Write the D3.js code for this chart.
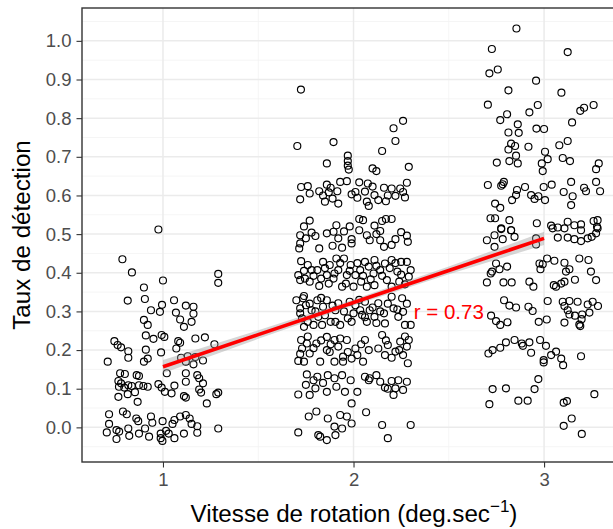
<!DOCTYPE html>
<html><head><meta charset="utf-8">
<script src="https://cdn.jsdelivr.net/npm/d3@7"></script>
<style>body{margin:0;background:#fff}svg{display:block;font-family:"Liberation Sans",Arial,Helvetica,sans-serif}</style>
</head><body><div id="chart"></div>
<script>
// x ticks / y ticks
const xTicks = [1, 2, 3];
const xMinor = [1.5, 2.5];
const yTicks = [0, 0.1, 0.2, 0.3, 0.4, 0.5, 0.6, 0.7, 0.8, 0.9, 1.0];
const yMinor = [-0.05, 0.05, 0.15, 0.25, 0.35, 0.45, 0.55, 0.65, 0.75, 0.85, 0.95, 1.05];

// jittered observations, speed 1 (x, y pairs)
const speed1 = [0.976,0.512,0.787,0.435,0.837,0.401,1.29,0.397,1.29,0.374,1.0,0.380,0.90,0.362,0.815,0.328,0.905,0.332,1.058,0.329,0.995,0.317,0.937,0.303,0.984,0.299,1.12,0.315,1.16,0.312,1.068,0.297,1.16,0.294,0.90,0.278,1.09,0.279,1.15,0.273,0.92,0.265,1.11,0.260,0.91,0.238,0.95,0.229,0.993,0.239,1.007,0.234,1.17,0.230,1.22,0.233,0.745,0.223,0.762,0.213,0.78,0.207,0.818,0.197,0.818,0.180,0.91,0.201,0.99,0.194,1.08,0.223,1.09,0.219,1.07,0.204,1.27,0.215,0.71,0.170,0.92,0.178,0.90,0.170,1.095,0.180,1.13,0.184,1.17,0.182,1.12,0.170,1.16,0.163,1.21,0.173,1.02,0.140,1.12,0.140,0.775,0.140,0.80,0.138,0.862,0.135,0.874,0.133,0.766,0.120,0.78,0.114,0.818,0.109,0.769,0.105,0.797,0.103,0.836,0.107,0.874,0.109,0.897,0.107,0.92,0.105,0.853,0.091,0.815,0.086,0.766,0.079,0.867,0.066,0.976,0.112,0.993,0.103,1.01,0.092,1.045,0.088,1.06,0.108,1.12,0.118,1.18,0.135,1.19,0.127,1.21,0.114,1.19,0.098,1.20,0.090,1.11,0.081,1.12,0.077,1.29,0.090,1.28,0.086,1.23,0.062,0.717,0.034,0.79,0.041,0.81,0.034,0.86,0.023,0.87,0.016,0.937,0.028,0.944,0.012,0.998,0.016,1.06,0.019,1.05,0.009,1.09,0.028,1.12,0.032,1.14,0.023,1.15,0.009,1.18,0.003,0.717,0.009,0.705,-0.013,0.756,-0.007,0.77,-0.011,0.818,-0.003,0.823,-0.022,0.756,-0.030,0.874,-0.016,0.927,-0.024,0.988,-0.016,1.016,-0.009,0.988,-0.028,0.997,-0.035,1.03,-0.016,1.06,-0.028,1.11,-0.016,1.18,-0.014,1.29,-0.003,0.906,-0.003];

// speed 2
const speed2 = [1.724,0.874,1.705,0.728,1.895,0.738,1.86,0.683,1.97,0.703,1.97,0.689,1.97,0.677,1.975,0.667,2.26,0.793,2.21,0.774,2.22,0.741,2.15,0.715,2.10,0.670,2.12,0.663,2.29,0.674,
1.725,0.622,1.76,0.624,1.72,0.590,1.77,0.605,1.82,0.611,1.86,0.628,1.87,0.608,1.85,0.584,1.89,0.592,1.92,0.579,1.93,0.635,1.965,0.637,1.915,0.611,1.99,0.603,2.01,0.609,2.02,0.594,2.03,0.634,2.075,0.631,2.10,0.623,2.07,0.584,2.08,0.573,2.11,0.601,2.13,0.588,2.16,0.620,2.17,0.585,2.20,0.618,2.22,0.599,2.245,0.618,2.26,0.609,2.28,0.633,
1.77,0.535,1.72,0.497,1.72,0.476,1.715,0.463,1.75,0.489,1.78,0.504,1.82,0.463,1.86,0.502,1.895,0.506,1.91,0.523,1.92,0.489,1.89,0.470,1.94,0.465,1.95,0.507,1.99,0.487,1.99,0.476,2.03,0.539,2.05,0.536,2.03,0.510,2.07,0.497,2.085,0.484,2.11,0.522,2.14,0.508,2.15,0.534,2.17,0.539,2.20,0.539,2.14,0.484,2.16,0.467,2.20,0.472,2.22,0.487,2.28,0.496,2.285,0.480,
1.74,0.520,1.80,0.495,1.84,0.600,1.88,0.620,1.98,0.520,2.06,0.610,2.12,0.500,2.18,0.600,2.25,0.505,2.27,0.595,
1.725,0.430,1.76,0.420,1.71,0.394,1.745,0.385,1.72,0.381,1.77,0.377,1.81,0.407,1.83,0.385,1.86,0.394,1.87,0.372,1.875,0.420,1.91,0.437,1.92,0.407,1.95,0.437,1.965,0.394,1.94,0.364,2.0,0.364,2.01,0.394,2.04,0.377,2.06,0.428,2.08,0.416,2.07,0.364,2.11,0.433,2.14,0.407,2.165,0.424,2.20,0.433,2.23,0.403,2.25,0.428,2.28,0.428,2.30,0.407,2.175,0.381,2.20,0.364,2.24,0.377,2.035,0.407,2.105,0.398,1.78,0.407,1.895,0.385,2.11,0.368,1.985,0.420,1.84,0.428,
1.74,0.405,1.79,0.392,1.85,0.412,1.90,0.398,1.93,0.425,1.98,0.405,2.02,0.425,2.05,0.392,2.09,0.383,2.12,0.418,2.15,0.392,2.19,0.412,2.22,0.425,2.25,0.395,2.27,0.370,2.29,0.390,1.82,0.366,1.96,0.372,
1.70,0.329,1.735,0.334,1.72,0.308,1.75,0.316,1.73,0.282,1.76,0.273,1.78,0.303,1.81,0.329,1.815,0.286,1.84,0.312,1.86,0.329,1.88,0.273,1.905,0.303,1.92,0.321,1.93,0.265,1.97,0.282,2.01,0.316,2.035,0.303,2.045,0.291,2.07,0.273,2.085,0.303,2.11,0.286,2.13,0.321,2.16,0.295,2.165,0.269,2.20,0.338,2.21,0.308,2.235,0.286,2.255,0.334,2.26,0.299,2.27,0.265,2.30,0.265,1.835,0.265,1.79,0.265,1.905,0.273,1.74,0.260,1.99,0.273,2.06,0.325,
1.72,0.295,1.77,0.320,1.80,0.300,1.83,0.335,1.85,0.290,1.89,0.315,1.95,0.300,1.98,0.325,2.00,0.295,2.03,0.330,2.06,0.285,2.10,0.310,2.14,0.300,2.18,0.320,2.23,0.305,2.28,0.320,1.74,0.340,2.12,0.270,
1.725,0.226,1.755,0.217,1.73,0.204,1.71,0.172,1.74,0.170,1.77,0.191,1.805,0.217,1.825,0.170,1.86,0.234,1.875,0.195,1.90,0.226,1.92,0.209,1.945,0.183,1.965,0.226,2.01,0.204,2.02,0.187,2.05,0.170,2.06,0.226,1.90,0.170,1.945,0.170,2.15,0.239,2.13,0.204,2.165,0.187,2.18,0.213,2.22,0.196,2.245,0.222,2.29,0.226,2.28,0.209,2.285,0.166,2.26,0.187,1.86,0.200,1.99,0.178,
1.76,0.235,1.79,0.205,1.83,0.225,1.88,0.215,1.93,0.230,1.97,0.195,2.04,0.215,2.08,0.200,2.17,0.225,2.20,0.180,2.24,0.200,2.27,0.235,1.72,0.190,
1.755,0.137,1.79,0.122,1.81,0.131,1.865,0.135,1.90,0.127,1.80,0.101,1.71,0.085,1.77,0.084,1.86,0.092,1.91,0.105,1.955,0.092,1.985,0.122,1.99,0.062,2.02,0.092,2.06,0.131,2.08,0.122,2.085,0.127,2.14,0.118,2.165,0.103,2.20,0.120,2.21,0.084,2.235,0.122,2.26,0.097,2.28,0.118,2.22,0.101,
1.84,0.115,1.94,0.135,2.12,0.135,2.18,0.100,1.75,0.110,
1.765,0.028,1.805,0.041,1.865,0.023,1.93,0.032,1.965,0.028,1.99,0.010,1.90,0.002,1.94,-0.003,2.066,0.039,2.15,0.006,2.30,0.006,1.71,-0.013,1.815,-0.020,1.825,-0.024,1.86,-0.033,1.905,-0.020,2.18,-0.028];

// speed 3
const speed3 = [2.855,1.032,2.726,0.979,3.124,0.971,2.713,0.916,2.757,0.926,2.958,0.897,2.813,0.872,3.091,0.866,2.705,0.835,2.967,0.834,2.923,0.815,2.806,0.810,2.77,0.795,3.19,0.819,3.21,0.827,3.26,0.834,3.147,0.789,2.862,0.784,2.867,0.762,2.813,0.763,2.96,0.773,3.0,0.772,2.827,0.734,2.848,0.728,2.813,0.719,2.918,0.726,2.853,0.703,3.005,0.713,3.019,0.694,2.752,0.685,2.818,0.689,2.862,0.683,2.988,0.683,2.993,0.663,3.08,0.730,3.124,0.741,3.098,0.697,3.136,0.689,3.287,0.683,3.273,0.668,
2.705,0.627,2.775,0.625,2.789,0.635,2.783,0.629,2.858,0.614,2.853,0.601,2.832,0.588,2.90,0.622,2.932,0.601,2.95,0.591,2.97,0.598,2.998,0.622,3.04,0.628,3.005,0.588,3.142,0.635,3.103,0.609,3.15,0.598,3.142,0.575,3.21,0.620,3.22,0.611,3.273,0.635,3.294,0.611,2.743,0.579,2.77,0.568,2.719,0.541,2.743,0.541,2.818,0.536,2.775,0.515,2.827,0.510,2.962,0.528,3.037,0.522,3.072,0.517,3.124,0.532,3.159,0.523,3.194,0.525,3.26,0.534,3.281,0.536,3.278,0.519,
2.775,0.513,2.827,0.510,2.74,0.497,2.70,0.484,2.783,0.487,2.845,0.493,2.74,0.467,2.958,0.489,2.958,0.473,3.045,0.515,3.072,0.491,3.124,0.491,3.107,0.515,3.194,0.510,3.159,0.487,3.229,0.489,3.273,0.502,3.25,0.493,3.281,0.515,3.194,0.482,
2.748,0.424,2.766,0.409,2.727,0.403,2.806,0.416,2.72,0.398,2.70,0.375,2.787,0.375,2.83,0.375,2.923,0.377,2.944,0.364,2.976,0.424,2.993,0.422,2.981,0.409,3.016,0.437,3.054,0.431,3.107,0.426,3.133,0.409,3.115,0.403,3.185,0.437,3.233,0.433,3.162,0.382,3.246,0.403,3.273,0.381,3.051,0.368,3.063,0.364,3.09,0.372,3.107,0.377,
2.79,0.329,2.818,0.315,2.853,0.310,2.918,0.312,2.94,0.301,3.019,0.327,2.722,0.289,2.748,0.275,2.77,0.265,2.808,0.272,2.972,0.273,3.014,0.279,3.107,0.314,3.098,0.325,3.133,0.327,3.176,0.325,3.124,0.303,3.133,0.292,3.162,0.289,3.2,0.292,3.197,0.280,3.19,0.262,3.185,0.266,3.238,0.297,3.229,0.318,3.255,0.325,3.283,0.314,3.107,0.271,
2.708,0.191,2.73,0.200,2.77,0.206,2.80,0.220,2.845,0.226,2.883,0.217,2.889,0.211,2.923,0.220,2.932,0.193,2.979,0.226,3.01,0.211,2.998,0.174,2.998,0.168,3.037,0.187,3.063,0.196,3.09,0.178,3.10,0.161,3.194,0.184,
2.97,0.125,2.95,0.099,2.73,0.099,2.80,0.101,2.865,0.069,2.914,0.069,2.713,0.060,3.103,0.064,3.12,0.068,3.264,0.086,3.145,0.023,3.103,0.004,3.198,-0.017];

// linear fit with confidence band
const fitX  = [1, 1.5, 2, 2.5, 3];
const fitY  = [0.157, 0.240, 0.323, 0.406, 0.489];
const fitLo = [0.140, 0.229, 0.315, 0.396, 0.472];
const fitHi = [0.174, 0.251, 0.331, 0.416, 0.506];
const rLabel = "r = 0.73";
const rPos = [2.5, 0.3];

const W = 613, H = 529;
const P = {l: 82, t: 8, r: 626, b: 462};
const x = d3.scaleLinear().domain([0.575, 3.43]).range([P.l, P.r]);
const y = d3.scaleLinear().domain([-0.0896, 1.085]).range([P.b, P.t]);

const svg = d3.select("#chart").append("svg").attr("width", W).attr("height", H);

// grid
const g = svg.append("g");
g.selectAll(".ymin").data(yMinor).join("line").attr("x1", P.l).attr("x2", P.r)
  .attr("y1", d => y(d)).attr("y2", d => y(d)).attr("stroke", "#f2f2f2").attr("stroke-width", 0.8);
g.selectAll(".xmin").data(xMinor).join("line").attr("y1", P.t).attr("y2", P.b)
  .attr("x1", d => x(d)).attr("x2", d => x(d)).attr("stroke", "#f2f2f2").attr("stroke-width", 0.8);
g.selectAll(".ymaj").data(yTicks).join("line").attr("x1", P.l).attr("x2", P.r)
  .attr("y1", d => y(d)).attr("y2", d => y(d)).attr("stroke", "#ebebeb").attr("stroke-width", 1.5);
g.selectAll(".xmaj").data(xTicks).join("line").attr("y1", P.t).attr("y2", P.b)
  .attr("x1", d => x(d)).attr("x2", d => x(d)).attr("stroke", "#ebebeb").attr("stroke-width", 1.5);

// points
function pairs(a){ const o=[]; for(let i=0;i<a.length;i+=2) o.push([a[i],a[i+1]]); return o; }
const pts = [].concat(pairs(speed1), pairs(speed2), pairs(speed3));
svg.append("g").selectAll("circle").data(pts).join("circle")
  .attr("cx", d => x(d[0])).attr("cy", d => y(d[1])).attr("r", 3.5)
  .attr("fill", "none").attr("stroke", "#000").attr("stroke-width", 1.15);

// band + line
const band = fitX.map((v,i) => ({x: v, lo: fitLo[i], hi: fitHi[i], m: fitY[i]}));
svg.append("path").datum(band)
  .attr("d", d3.area().x(d => x(d.x)).y0(d => y(d.lo)).y1(d => y(d.hi)))
  .attr("fill", "#999999").attr("fill-opacity", 0.4);
svg.append("path").datum(band)
  .attr("d", d3.line().x(d => x(d.x)).y(d => y(d.m)))
  .attr("fill", "none").attr("stroke", "#ff0000").attr("stroke-width", 3.6);

svg.append("text").attr("x", x(rPos[0])).attr("y", y(rPos[1]))
  .attr("text-anchor", "middle").attr("dy", "0.36em")
  .attr("fill", "#ff0000").attr("font-size", 20.5).text(rLabel);

// border
svg.append("rect").attr("x", P.l).attr("y", P.t).attr("width", P.r - P.l).attr("height", P.b - P.t)
  .attr("fill", "none").attr("stroke", "#333333").attr("stroke-width", 1.4);

// axes
const ax = svg.append("g").attr("transform", `translate(0,${P.b})`)
  .call(d3.axisBottom(x).tickValues(xTicks).tickFormat(d3.format("d")).tickSize(5.5).tickPadding(5.5));
const ay = svg.append("g").attr("transform", `translate(${P.l},0)`)
  .call(d3.axisLeft(y).tickValues(yTicks).tickFormat(d3.format(".1f")).tickSize(5.5).tickPadding(5));
[ax, ay].forEach(a => {
  a.select(".domain").remove();
  a.selectAll(".tick line").attr("stroke", "#333333").attr("stroke-width", 1.1);
  a.selectAll(".tick text").attr("fill", "#4d4d4d").attr("font-size", 18.5)
   .attr("font-family", "Liberation Sans, Arial, sans-serif");
});

// titles
const xt = svg.append("text").attr("x", (P.l + P.r) / 2).attr("y", 522)
  .attr("text-anchor", "middle").attr("font-size", 24.2).attr("fill", "#000");
xt.append("tspan").text("Vitesse de rotation (deg.sec");
xt.append("tspan").attr("font-size", 17).attr("dy", -10).text("\u22121");
xt.append("tspan").attr("dy", 10).text(")");

svg.append("text").attr("transform", `translate(30,${(P.t + P.b) / 2}) rotate(-90)`)
  .attr("text-anchor", "middle").attr("font-size", 24.2).attr("fill", "#000").text("Taux de détection");
</script></body></html>
